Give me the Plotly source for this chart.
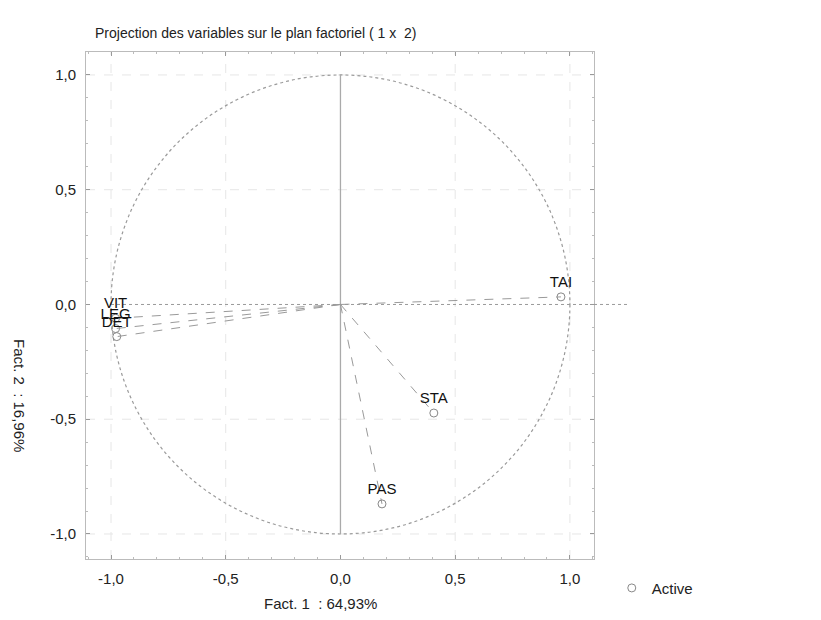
import plotly.graph_objects as go

variables = ["VIT", "LEG", "DET", "TAI", "STA", "PAS"]
fact1 = [-0.98, -0.98, -0.975, 0.961, 0.407, 0.181]
fact2 = [-0.06, -0.105, -0.14, 0.033, -0.473, -0.869]

tick_vals = [-1.0, -0.5, 0.0, 0.5, 1.0]
tick_text = ["-1,0", "-0,5", "0,0", "0,5", "1,0"]
grid_vals = [-1.0, -0.5, 0.5, 1.0]

title_text = "Projection des variables sur le plan factoriel ( 1 x  2)"
x_title = "Fact. 1  : 64,93%"
y_title = "Fact. 2  : 16,96%"
legend_name = "Active"

XR = [-1.109, 1.105]
YR = [-1.109, 1.100]

FONT = "Liberation Sans, Arial, Helvetica, sans-serif"
fig = go.Figure()

# dashed lines from origin
for v, x, y in zip(variables, fact1, fact2):
    fig.add_trace(go.Scatter(x=[0, x], y=[0, y], mode="lines",
                             line=dict(color="#9a9a9a", width=1, dash="dash"),
                             showlegend=False, hoverinfo="skip"))

fig.add_trace(go.Scatter(x=fact1, y=fact2, mode="markers+text", text=variables,
                         textposition="top center",
                         textfont=dict(family=FONT, size=15, color="#111"),
                         marker=dict(symbol="circle-open", size=8, color="#888",
                                     line=dict(width=1)),
                         name=legend_name, showlegend=True, cliponaxis=False))

shapes = []
for g in grid_vals:
    shapes.append(dict(type="line", xref="x", yref="y", x0=g, x1=g, y0=YR[0], y1=YR[1],
                       line=dict(color="#e6e6e6", width=1, dash="dash"), layer="below"))
    shapes.append(dict(type="line", xref="x", yref="y", y0=g, y1=g, x0=XR[0], x1=XR[1],
                       line=dict(color="#e6e6e6", width=1, dash="dash"), layer="below"))
shapes += [
    dict(type="circle", xref="x", yref="y", x0=-1, y0=-1, x1=1, y1=1,
         line=dict(color="#9a9a9a", width=1.2, dash="dot"), layer="below"),
    dict(type="line", xref="x", yref="y", x0=0, y0=-1, x1=0, y1=1,
         line=dict(color="#aaa", width=1.3), layer="below"),
    dict(type="line", xref="x", yref="y", x0=-1, y0=0, x1=XR[1], y1=0,
         line=dict(color="#9a9a9a", width=1, dash="dot"), layer="below"),
]
y0_paper = (0 - YR[0]) / (YR[1] - YR[0])
shapes.append(dict(type="line", xref="paper", yref="paper", x0=1.0, x1=1.067,
                   y0=y0_paper, y1=y0_paper,
                   line=dict(color="#9a9a9a", width=1, dash="dot")))

axis_common = dict(
    tickvals=tick_vals, ticktext=tick_text, ticks="inside", ticklen=4,
    tickcolor="#999", showline=True, linecolor="#bbb", linewidth=1, mirror="allticks",
    showgrid=False, zeroline=False,
    tickfont=dict(family=FONT, size=15, color="#222"),
    minor=dict(ticks="inside", dtick=0.1, ticklen=2, tickcolor="#bbb", showgrid=False),
)

fig.update_layout(
    width=821, height=620,
    margin=dict(l=78, r=235, t=44, b=69),
    paper_bgcolor="white", plot_bgcolor="white",
    xaxis=dict(range=XR, ticklabelstandoff=6, **axis_common),
    yaxis=dict(range=YR, ticklabelstandoff=6, **axis_common),
    shapes=shapes,
    showlegend=True,
    legend=dict(x=1.035, y=-0.025, xanchor="left", yanchor="top",
                font=dict(family=FONT, size=15, color="#222"),
                bgcolor="rgba(0,0,0,0)"),
    annotations=[
        dict(text=title_text, xref="paper", yref="paper", x=0.0138, y=(559 - 33) / 507,
             xanchor="left", yanchor="middle", showarrow=False,
             font=dict(family=FONT, size=14, color="#222")),
        dict(text=x_title, xref="paper", yref="paper", x=(320 - 86) / 508,
             y=(559 - 603) / 507, xanchor="center", yanchor="middle", showarrow=False,
             font=dict(family=FONT, size=15, color="#222")),
        dict(text=y_title, xref="paper", yref="paper", x=(20 - 86) / 508,
             y=(559 - 395) / 507, xanchor="center", yanchor="middle", showarrow=False,
             textangle=90, font=dict(family=FONT, size=15, color="#222")),
    ],
)

fig.write_html("out.html")
